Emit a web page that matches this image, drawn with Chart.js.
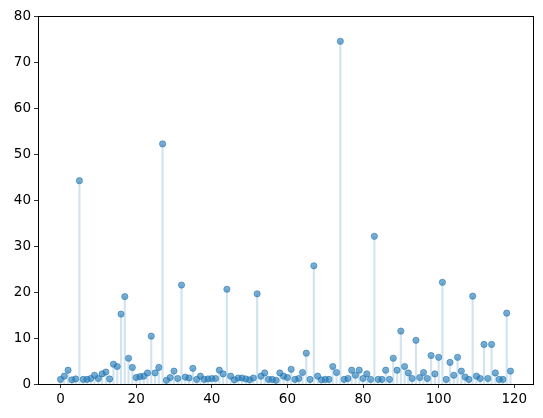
<!DOCTYPE html>
<html>
<head>
<meta charset="utf-8">
<script src="https://cdn.jsdelivr.net/npm/chart.js@4/dist/chart.umd.min.js"></script>
<style>
  html, body { margin: 0; padding: 0; background: #fff; }
  #wrap { width: 543px; height: 418px; }
</style>
</head>
<body>
<div id="wrap"><canvas id="stemChart"></canvas></div>
<script>
// values per index 0..119
const values = [
    1.0, 1.7, 3.0, 0.9, 1.1, 44.2, 1.0, 1.0, 1.2, 1.9,
    1.2, 2.2, 2.6, 1.1, 4.3, 3.8, 15.2, 19.0, 5.6, 3.6,
    1.4, 1.6, 1.7, 2.4, 10.4, 2.4, 3.6, 52.2, 0.8, 1.4,
    2.8, 1.2, 21.5, 1.5, 1.3, 3.4, 1.0, 1.7, 1.0, 1.1,
    1.2, 1.2, 3.0, 2.2, 20.6, 1.7, 0.9, 1.3, 1.3, 1.1,
    0.9, 1.3, 19.6, 1.7, 2.4, 1.0, 1.0, 0.8, 2.4, 1.7,
    1.4, 3.2, 1.0, 1.2, 2.5, 6.7, 1.0, 25.7, 1.7, 0.9,
    1.0, 1.0, 3.8, 2.5, 74.5, 1.0, 1.2, 3.0, 1.9, 3.0,
    1.2, 2.2, 1.0, 32.1, 1.0, 1.0, 3.0, 1.0, 5.6, 3.0,
    11.5, 3.8, 2.4, 1.2, 9.5, 1.4, 2.5, 1.2, 6.2, 2.2,
    5.8, 22.1, 1.0, 4.7, 1.9, 5.8, 2.8, 1.5, 1.0, 19.1,
    1.7, 1.2, 8.6, 1.2, 8.6, 2.4, 1.0, 1.0, 15.4, 2.8
];
const xTicks = [0, 20, 40, 60, 80, 100, 120];
const yTicks = [0, 10, 20, 30, 40, 50, 60, 70, 80];

const points = values.map((v, i) => ({ x: i, y: v }));

// box around the plot area, like matplotlib's spines
const frame = {
    id: "frame",
    afterDraw(chart) {
        const a = chart.chartArea;
        const ctx = chart.ctx;
        ctx.save();
        ctx.strokeStyle = "#000";
        ctx.lineWidth = 1;
        ctx.strokeRect(Math.round(a.left) + 0.5, Math.round(a.top) + 0.5,
            Math.round(a.right - a.left), Math.round(a.bottom - a.top));
        ctx.restore();
    }
};

const font = { family: "DejaVu Sans", size: 13.5 };

new Chart(document.getElementById("stemChart"), {
    data: {
        datasets: [{
            type: "bar",
            data: points,
            backgroundColor: "rgba(31,119,180,0.2)",
            barThickness: 1.5,
            order: 2
        }, {
            type: "scatter",
            data: points,
            backgroundColor: "rgba(31,119,180,0.6)",
            borderColor: "rgba(31,119,180,0.6)",
            borderWidth: 1,
            pointRadius: 3.1,
            order: 1
        }]
    },
    options: {
        responsive: true,
        maintainAspectRatio: false,
        animation: false,
        layout: { padding: { left: 0, top: 16, right: 10, bottom: 0 } },
        plugins: { legend: { display: false }, tooltip: { enabled: false } },
        scales: {
            x: {
                type: "linear",
                offset: false,
                min: -5.95,
                max: 124.95,
                afterBuildTicks: s => { s.ticks = xTicks.map(v => ({ value: v })); },
                afterFit: s => { s.height = 34; },
                ticks: { color: "#000", font: font, padding: 3, maxRotation: 0 },
                grid: { offset: false, drawOnChartArea: false, drawTicks: true, tickLength: 4, color: "#000", lineWidth: 0.8 },
                border: { display: false }
            },
            y: {
                type: "linear",
                min: 0,
                max: 80,
                afterBuildTicks: s => { s.ticks = yTicks.map(v => ({ value: v })); },
                afterFit: s => { s.width = 38; },
                ticks: { color: "#000", font: font, padding: 3 },
                grid: { drawOnChartArea: false, drawTicks: true, tickLength: 4, color: "#000", lineWidth: 0.8 },
                border: { display: false }
            }
        }
    },
    plugins: [frame]
});
</script>
</body>
</html>
